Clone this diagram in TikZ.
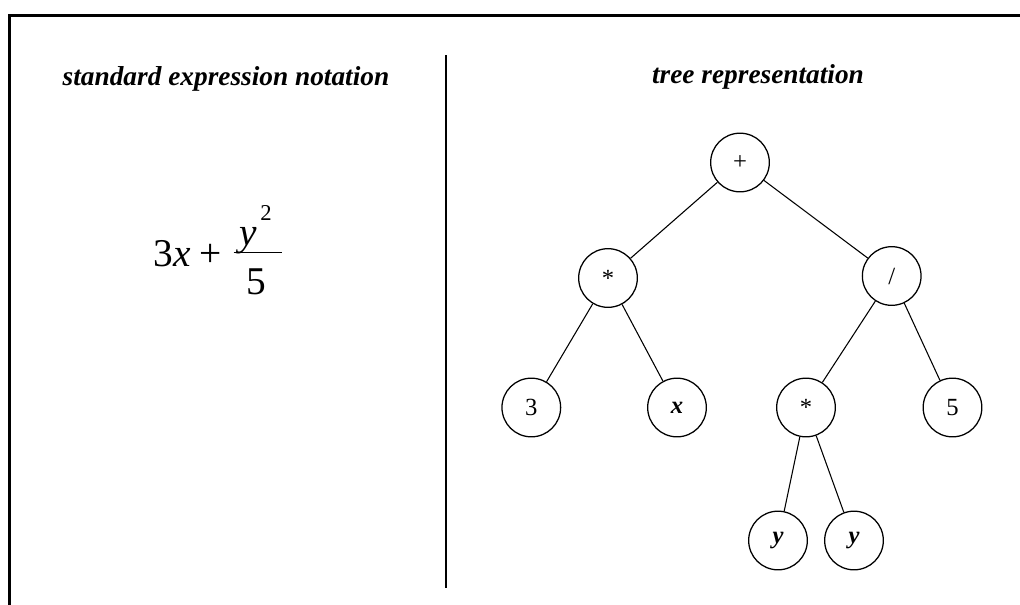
\documentclass[tikz,border=0pt]{standalone}
\usepackage{fontspec}
\setmainfont{Liberation Serif}
\begin{document}
\begin{tikzpicture}[x=0.75pt,y=-0.75pt,
  title/.style={font=\fontsize{20.5}{24}\selectfont\bfseries\itshape, anchor=base, inner sep=0pt},
  tnode/.style={circle, draw, line width=0.95pt, minimum size=44pt, inner sep=0pt, font=\fontsize{18.5}{22}\selectfont},
  edge/.style={line width=0.8pt},
  frame/.style={line width=2.3pt},
  fx/.style={font=\fontsize{29.5}{34}\selectfont, anchor=base, inner sep=0pt}]
\useasboundingbox (0,0) rectangle (1020,604);
% frame and divider
\draw[frame] (1030,15.5) -- (9.5,15.5) -- (9.5,614);
\draw[line width=1.9pt] (446,55) coordinate (dtop) -- (446,588) coordinate (dbot);
% titles
\node[title] (t1) at (226,85.5) {standard expression notation};
\node[title] (t2) at (758,83) {tree representation};
% formula
\node[fx] (f3x) at (172,266.7) {3\textit{x}};
\node[fx] (fplus) at (211,266.7) {+};
\node[fx] (fy) at (248,245) {\textit{y}};
\node[fx, font=\fontsize{17}{20}\selectfont] (f2) at (266,220) {2};
\draw[line width=1.1pt] (233.5,252.3) -- (281.5,252.3);
\node[fx] (f5) at (256.5,294.5) {5};
% tree
\node[tnode] (plus) at (740,162.5) {+};
\node[tnode] (mul1) at (608,278) {*};
\node[tnode] (div) at (891.7,276) {/};
\node[tnode] (n3) at (531.3,407.5) {3};
\node[tnode] (nx) at (677,407.5) {\textbf{\textit{x}}};
\node[tnode] (mul2) at (806,407.5) {*};
\node[tnode] (n5) at (952.5,407.5) {5};
\node[tnode] (y1) at (778,540.5) {\textbf{\textit{y}}};
\node[tnode] (y2) at (854,540.5) {\textbf{\textit{y}}};
\draw[edge] (plus) -- (mul1);
\draw[edge] (plus) -- (div);
\draw[edge] (mul1) -- (n3);
\draw[edge] (mul1) -- (nx);
\draw[edge] (div) -- (mul2);
\draw[edge] (div) -- (n5);
\draw[edge] (mul2) -- (y1);
\draw[edge] (mul2) -- (y2);
\end{tikzpicture}
\end{document}
